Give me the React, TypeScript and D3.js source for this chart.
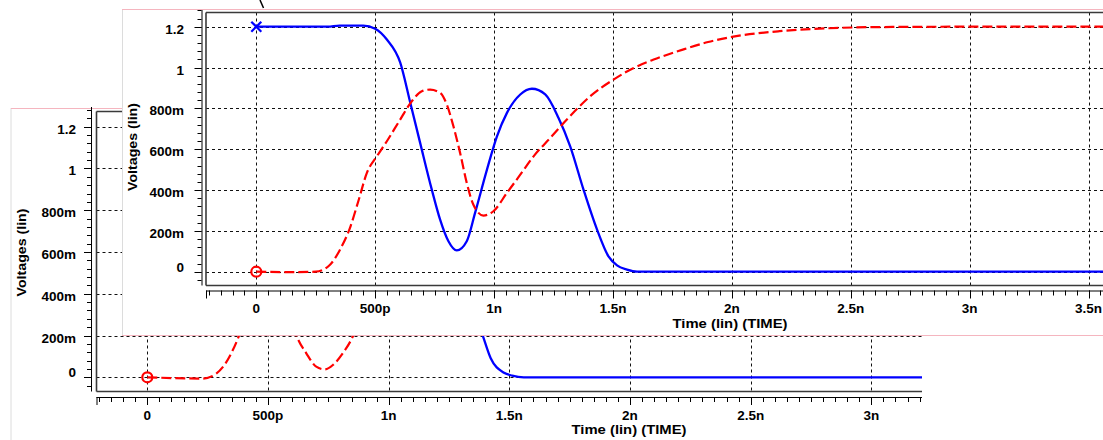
import React from 'react';
import * as d3 from 'd3';

// ---------- data (time in ps, voltage in V) ----------
const yTickValues = [0, 0.2, 0.4, 0.6, 0.8, 1.0, 1.2];
const yTickLabels = ['0', '200m', '400m', '600m', '800m', '1', '1.2'];
const xTickValuesFront = [0, 500, 1000, 1500, 2000, 2500, 3000, 3500];
const xTickLabelsFront = ['0', '500p', '1n', '1.5n', '2n', '2.5n', '3n', '3.5n'];
const xTickValuesBack = [0, 500, 1000, 1500, 2000, 2500, 3000];
const xTickLabelsBack = ['0', '500p', '1n', '1.5n', '2n', '2.5n', '3n'];

const frontBlueTime = [0, 300, 350, 450, 500, 549, 605, 647, 689, 738, 773, 808, 843, 885, 920, 970, 1012, 1054, 1110, 1159, 1215, 1271, 1320, 1376, 1433, 1481, 1517, 1559, 1601, 4200];
const frontBlueVolt = [1.2, 1.2, 1.205, 1.205, 1.19, 1.137, 1.025, 0.83, 0.631, 0.402, 0.255, 0.149, 0.104, 0.149, 0.288, 0.5, 0.663, 0.778, 0.868, 0.896, 0.868, 0.753, 0.614, 0.402, 0.206, 0.075, 0.031, 0.01, 0.0, 0.0];

const frontRedTime = [0, 150, 250, 310, 352, 394, 429, 465, 507, 549, 605, 654, 696, 731, 773, 801, 829, 857, 885, 913, 955, 997, 1054, 1110, 1166, 1236, 1306, 1404, 1502, 1587, 1671, 1800, 1900, 2000, 2200, 2400, 2600, 3000, 4200];
const frontRedVolt = [0, -0.002, 0, 0.034, 0.108, 0.215, 0.345, 0.484, 0.565, 0.639, 0.745, 0.835, 0.884, 0.892, 0.876, 0.819, 0.712, 0.582, 0.435, 0.328, 0.275, 0.296, 0.386, 0.475, 0.565, 0.655, 0.745, 0.859, 0.941, 0.998, 1.039, 1.09, 1.125, 1.15, 1.178, 1.192, 1.198, 1.2, 1.2];

const backRedTime = [0, 230, 287, 320, 350, 380, 430, 500, 560, 617, 659, 700, 735, 769, 810, 851, 900, 1000, 1200, 1500, 2000, 3300];
const backRedVolt = [0, -0.006, 0.019, 0.06, 0.12, 0.2, 0.4, 0.55, 0.45, 0.203, 0.115, 0.051, 0.038, 0.059, 0.115, 0.194, 0.35, 0.6, 0.9, 1.1, 1.19, 1.2];

const backBlueTime = [0, 450, 700, 900, 1100, 1250, 1330, 1389, 1423, 1478, 1512, 1560, 3300];
const backBlueVolt = [1.2, 1.2, 0.8, 0.5, 0.7, 0.6, 0.4, 0.203, 0.091, 0.022, 0.008, 0.0, 0.0];

const FONT = '"Liberation Sans", Arial, sans-serif';

type PanelCfg = {
  x: d3.ScaleLinear<number, number>;
  y: d3.ScaleLinear<number, number>;
  frameLeft: number;
  frameTop: number;
  frameBottom: number;
  frameRight: number;
  yAxisX: number;
  xAxisY: number;
  yAxisTop: number;
  yLabelX: number;
  xLabelBaseline: number;
  xTickValues: number[];
  xTickLabels: string[];
  clipId: string;
  blueT: number[];
  blueV: number[];
  redT: number[];
  redV: number[];
  titleX: number;
  titleBaseline: number;
  vTitleX: number;
  vTitleY: number;
};

function Panel({ c }: { c: PanelCfg }) {
  const { x, y } = c;
  const line = d3
    .line<[number, number]>()
    .x((d) => x(d[0]))
    .y((d) => y(d[1]))
    .curve(d3.curveMonotoneX);
  const blue = line(c.blueT.map((t, i) => [t, c.blueV[i]]) as [number, number][]) || '';
  const red = line(c.redT.map((t, i) => [t, c.redV[i]]) as [number, number][]) || '';

  const tMin = x.invert(c.frameLeft);
  const tMax = x.invert(c.frameRight);
  const xMinor = d3.range(Math.ceil(tMin / 50) * 50, tMax, 50);
  const vMin = y.invert(c.frameBottom);
  const vMax = y.invert(c.yAxisTop);
  const yMinor = d3.range(Math.ceil(vMin / 0.04) * 0.04, vMax, 0.04);

  return (
    <g>
      <defs>
        <clipPath id={c.clipId}>
          <rect x={c.frameLeft} y={c.frameTop} width={c.frameRight - c.frameLeft} height={c.frameBottom - c.frameTop} />
        </clipPath>
      </defs>
      {/* grid */}
      <g stroke="#111" strokeWidth={1} strokeDasharray="3,3" clipPath={`url(#${c.clipId})`}>
        {yTickValues.map((v) => (
          <line key={'gy' + v} x1={c.frameLeft} x2={c.frameRight} y1={Math.round(y(v)) + 0.5} y2={Math.round(y(v)) + 0.5} />
        ))}
        {c.xTickValues.map((t) => (
          <line key={'gx' + t} x1={Math.round(x(t)) + 0.5} x2={Math.round(x(t)) + 0.5} y1={c.frameTop} y2={c.frameBottom} />
        ))}
      </g>
      {/* frame */}
      <g stroke="#3a3a3a" strokeWidth={1.6} fill="none">
        <line x1={c.frameLeft} x2={c.frameRight} y1={c.frameTop} y2={c.frameTop} />
        <line x1={c.frameLeft} x2={c.frameLeft} y1={c.frameTop} y2={c.frameBottom} />
        <line x1={c.frameLeft} x2={c.frameRight} y1={c.frameBottom} y2={c.frameBottom} />
      </g>
      {/* curves */}
      <g clipPath={`url(#${c.clipId})`} fill="none">
        <path d={blue} stroke="#0000ff" strokeWidth={2.3} />
        <path d={red} stroke="#ff0000" strokeWidth={2.2} strokeDasharray="10,4" />
      </g>
      {/* markers */}
      <g clipPath={`url(#${c.clipId})`} fill="none" strokeWidth={2.2}>
        <circle cx={x(c.redT[0])} cy={y(c.redV[0])} r={5} stroke="#ff0000" />
        <g stroke="#0000ff">
          <line x1={x(c.blueT[0]) - 5} x2={x(c.blueT[0]) + 5} y1={y(c.blueV[0]) - 5} y2={y(c.blueV[0]) + 5} />
          <line x1={x(c.blueT[0]) - 5} x2={x(c.blueT[0]) + 5} y1={y(c.blueV[0]) + 5} y2={y(c.blueV[0]) - 5} />
        </g>
      </g>
      {/* y axis */}
      <g stroke="#000" strokeWidth={1}>
        <line x1={c.yAxisX + 0.5} x2={c.yAxisX + 0.5} y1={c.yAxisTop} y2={c.frameBottom} />
        {yMinor.map((v) => (
          <line key={'ym' + v.toFixed(3)} x1={c.yAxisX - 4} x2={c.yAxisX} y1={Math.round(y(v)) + 0.5} y2={Math.round(y(v)) + 0.5} />
        ))}
        {yTickValues.map((v) => (
          <line key={'yM' + v} x1={c.yAxisX - 7} x2={c.yAxisX} y1={Math.round(y(v)) + 0.5} y2={Math.round(y(v)) + 0.5} />
        ))}
      </g>
      <g fontFamily={FONT} fontWeight="bold" fontSize={13.5} fill="#000" textAnchor="end">
        {yTickValues.map((v, i) => (
          <text key={'yl' + v} x={c.yLabelX} y={y(v) + (v === 0 ? 0 : 7)}>
            {yTickLabels[i]}
          </text>
        ))}
      </g>
      {/* x axis */}
      <g stroke="#000" strokeWidth={1}>
        <line x1={c.frameLeft} x2={c.frameRight} y1={c.xAxisY + 0.5} y2={c.xAxisY + 0.5} />
        <line x1={c.frameLeft + 0.5} x2={c.frameLeft + 0.5} y1={c.xAxisY} y2={c.xAxisY + 8} />
        {xMinor.map((t) => (
          <line key={'xm' + t} x1={Math.round(x(t)) + 0.5} x2={Math.round(x(t)) + 0.5} y1={c.xAxisY} y2={c.xAxisY + 5} />
        ))}
        {c.xTickValues.map((t) => (
          <line key={'xM' + t} x1={Math.round(x(t)) + 0.5} x2={Math.round(x(t)) + 0.5} y1={c.xAxisY} y2={c.xAxisY + 8} />
        ))}
      </g>
      <g fontFamily={FONT} fontWeight="bold" fontSize={13.5} fill="#000" textAnchor="middle">
        {c.xTickValues.map((t, i) => (
          <text key={'xl' + t} x={x(t)} y={c.xLabelBaseline}>
            {c.xTickLabels[i]}
          </text>
        ))}
        <text x={c.titleX} y={c.titleBaseline} textLength={115} lengthAdjust="spacingAndGlyphs">
          Time (lin) (TIME)
        </text>
        <text
          transform={`translate(${c.vTitleX},${c.vTitleY}) rotate(-90)`}
          textLength={88}
          lengthAdjust="spacingAndGlyphs"
        >
          Voltages (lin)
        </text>
      </g>
    </g>
  );
}

export default function App() {
  const W = 1103;
  const H = 440;

  const xBack = d3.scaleLinear().domain([0, 3000]).range([147.3, 871.3]);
  const yBack = d3.scaleLinear().domain([0, 1.2]).range([377.3, 126.7]);
  const xFront = d3.scaleLinear().domain([0, 3500]).range([256.3, 1088.6]);
  const yFront = d3.scaleLinear().domain([0, 1.2]).range([271.7, 26.7]);

  const back: PanelCfg = {
    x: xBack,
    y: yBack,
    frameLeft: 96.5,
    frameTop: 111.5,
    frameBottom: 391.5,
    frameRight: 922,
    yAxisX: 91,
    xAxisY: 397,
    yAxisTop: 107,
    yLabelX: 76,
    xLabelBaseline: 419.5,
    xTickValues: xTickValuesBack,
    xTickLabels: xTickLabelsBack,
    clipId: 'clipBack',
    blueT: backBlueTime,
    blueV: backBlueVolt,
    redT: backRedTime,
    redV: backRedVolt,
    titleX: 629,
    titleBaseline: 433.5,
    vTitleX: 26,
    vTitleY: 252.5,
  };

  const front: PanelCfg = {
    x: xFront,
    y: yFront,
    frameLeft: 206,
    frameTop: 12.5,
    frameBottom: 285.5,
    frameRight: 1110,
    yAxisX: 201.5,
    xAxisY: 290.5,
    yAxisTop: 10,
    yLabelX: 184,
    xLabelBaseline: 313,
    xTickValues: xTickValuesFront,
    xTickLabels: xTickLabelsFront,
    clipId: 'clipFront',
    blueT: frontBlueTime,
    blueV: frontBlueVolt,
    redT: frontRedTime,
    redV: frontRedVolt,
    titleX: 730,
    titleBaseline: 328,
    vTitleX: 136.5,
    vTitleY: 147,
  };

  return (
    <svg
      width={W}
      height={H}
      viewBox={`0 0 ${W} ${H}`}
      style={{ position: 'absolute', left: 0, top: 0, background: '#fff' }}
    >
      <rect x={0} y={0} width={W} height={H} fill="#fff" />
      {/* back window */}
      <line x1={11} x2={11} y1={108} y2={H} stroke="#dcdcdc" strokeWidth={1} />
      <line x1={11} x2={W} y1={108.5} y2={108.5} stroke="#f5b5bf" strokeWidth={1} />
      <Panel c={back} />
      {/* front window */}
      <rect x={122} y={9} width={W} height={326} fill="#fff" />
      <line x1={122.5} x2={122.5} y1={9} y2={335} stroke="#dcdcdc" strokeWidth={1} />
      <line x1={122} x2={W} y1={9.5} y2={9.5} stroke="#f5b5bf" strokeWidth={1} />
      <line x1={122} x2={W} y1={335.5} y2={335.5} stroke="#f5b5bf" strokeWidth={1} />
      <Panel c={front} />
      {/* stray glyph stroke at the top */}
      <line x1={260} x2={263.5} y1={0} y2={8} stroke="#000" strokeWidth={1.5} />
    </svg>
  );
}
